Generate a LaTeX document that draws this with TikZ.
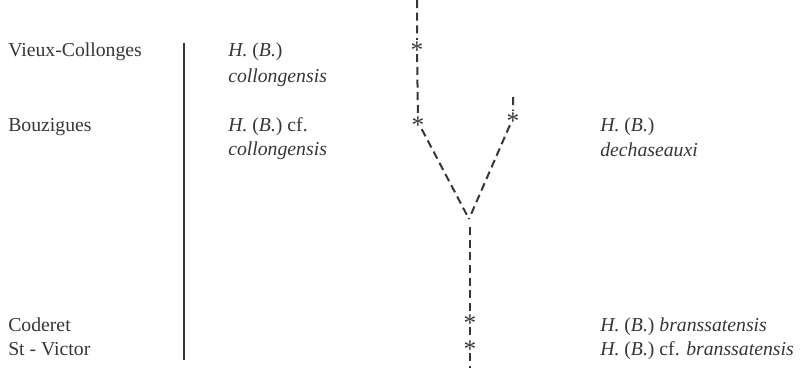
\documentclass[tikz,border=0pt]{standalone}
\usepackage{fontspec}
\setmainfont{Liberation Serif}
\usepackage{tikz}

\definecolor{inkgrey}{HTML}{363636}
\newcommand{\findmark}{\raisebox{-0.47em}[0.21em][0.21em]{*}}

\begin{document}
\begin{tikzpicture}[x=0.75pt,y=-0.75pt,
    every node/.style={text=inkgrey, font=\fontsize{14.8}{18}\selectfont},
    site/.style={anchor=base west, inner sep=0pt},
    taxon/.style={anchor=base west, inner sep=0pt},
    find/.style={inner sep=1.2pt, font=\fontsize{19}{20}\selectfont},
    lineage/.style={draw=inkgrey, line width=1.5pt, dash pattern=on 6pt off 3.5pt},
    divider/.style={draw=inkgrey, line width=1.1pt}]
    \useasboundingbox (0,0) rectangle (801,368);

    % Localities
    \node[site] (vc) at (8,56) {Vieux-Collonges};
    \node[site] (bz) at (8,131) {Bouzigues};
    \node[site] (cd) at (8,331) {Coderet};
    \node[site] (sv) at (8,355) {St - Victor};

    % Separator between localities and taxa
    \coordinate (septop) at (184,43);
    \coordinate (sepbot) at (184,360);
    \draw[divider] (septop) -- (sepbot);

    % Taxa, middle column
    \node[taxon] (col1) at (228,56) {\textit{H.} (\textit{B.})};
    \node[taxon] (col1b) at (228,82) {\textit{collongensis}};
    \node[taxon] (col2) at (228,131) {\textit{H.} (\textit{B.}) cf.};
    \node[taxon] (col2b) at (228,155) {\textit{collongensis}};

    % Taxa, right column
    \node[taxon] (dch) at (600,131) {\textit{H.} (\textit{B.})};
    \node[taxon] (dchb) at (600,156) {\textit{dechaseauxi}};
    \node[taxon] (br1) at (600,331) {\textit{H.} (\textit{B.}) \textit{branssatensis}};
    \node[taxon] (br2) at (600,355) {\textit{H.} (\textit{B.}) cf. \textit{branssatensis}};

    % Finds
    \foreach \n/\x/\y in {fvc/417/47, fbz/418/122, fdc/513/118, fcd/470/320, fsv/470/346} {
        \node[find] (\n) at (\x,\y) {\findmark};
    }

    % Lineages
    \coordinate (ltop) at (417,0);
    \coordinate (rtop) at (513,97);
    \coordinate (fork) at (469,219);
    \coordinate (stem) at (470,227);
    \coordinate (lbot) at (470,368);
    \draw[lineage] (ltop) -- (fvc) -- (fbz) -- (fork);
    \draw[lineage] (rtop) -- (fdc) -- (fork);
    \draw[lineage] (stem) -- (fcd) -- (fsv) -- (lbot);

\end{tikzpicture}
\end{document}
